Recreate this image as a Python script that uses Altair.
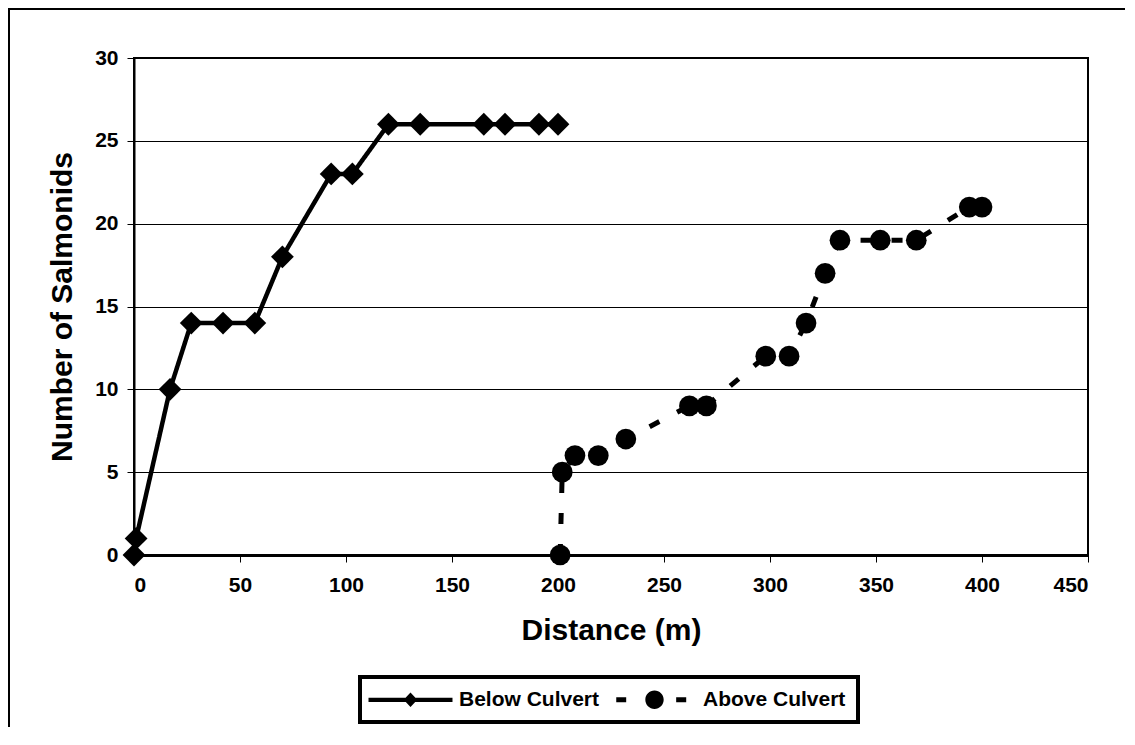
import altair as alt
import pandas as pd

# ---- data ----
series_names = ["Below Culvert", "Above Culvert"]

below_x = [0, 1, 17, 27, 42, 57, 70, 93, 103, 120, 135, 165, 175, 191, 200]
below_y = [0, 1, 10, 14, 14, 14, 18, 23, 23, 26, 26, 26, 26, 26, 26]

above_x = [201, 202, 208, 219, 232, 262, 270, 298, 309, 317, 326, 333, 352, 369, 394, 400]
above_y = [0, 5, 6, 6, 7, 9, 9, 12, 12, 14, 17, 19, 19, 19, 21, 21]

x_ticks = [0, 50, 100, 150, 200, 250, 300, 350, 400, 450]
y_ticks = [0, 5, 10, 15, 20, 25, 30]

rows = []
for i, (x, y) in enumerate(zip(below_x, below_y)):
    rows.append({"series": series_names[0], "x": x, "y": y, "idx": i})
for i, (x, y) in enumerate(zip(above_x, above_y)):
    rows.append({"series": series_names[1], "x": x, "y": y, "idx": i})
df = pd.DataFrame(rows)

FONT = "Liberation Sans"
W, H = 954, 497
PAD = {"left": 126, "top": 50, "right": 37, "bottom": 172}

# legend glyphs (line + marker) as custom symbol paths
path_below = ("M-4.94,-0.25L4.94,-0.25L4.94,0.25L-4.94,0.25Z "
              "M0,-0.85L0.8,0L0,0.85L-0.8,0Z")
path_above = ("M-4.5,-0.29L-3.33,-0.29L-3.33,0.29L-4.5,0.29Z "
              "M2.55,-0.29L3.73,-0.29L3.73,0.29L2.55,0.29Z "
              "M-1.08,0A1.08,1.08 0 1,1 1.08,0A1.08,1.08 0 1,1 -1.08,0Z")

xs = alt.Scale(domain=[0, 450], nice=False, zero=False)
ys = alt.Scale(domain=[0, 30], nice=False)

x_enc = alt.X("x:Q", scale=xs, title="Distance (m)",
              axis=alt.Axis(values=x_ticks, grid=False, domainWidth=3,
                            domainColor="black", tickColor="black", tickSize=7,
                            labelPadding=12, titlePadding=20))
y_enc = alt.Y("y:Q", scale=ys, title="Number of Salmonids",
              axis=alt.Axis(values=y_ticks, grid=True, gridColor="black",
                            gridWidth=1, domainWidth=2, domainColor="black",
                            tickColor="black", tickSize=7, labelPadding=9,
                            titlePadding=17))

base = alt.Chart(df)

lines = base.mark_line(color="black", clip=False).encode(
    x=x_enc, y=y_enc,
    order="idx:Q",
    detail="series:N",
    strokeDash=alt.StrokeDash("series:N", scale=alt.Scale(domain=series_names, range=[[1, 0], [11, 20]]), legend=None),
    strokeWidth=alt.StrokeWidth("series:N", scale=alt.Scale(domain=series_names, range=[4.5, 5]), legend=None),
)

points = base.mark_point(filled=True, color="black", opacity=1, clip=False).encode(
    x="x:Q", y="y:Q",
    shape=alt.Shape("series:N", scale=alt.Scale(domain=series_names, range=["diamond", "circle"]), legend=None),
    size=alt.Size("series:N", scale=alt.Scale(domain=series_names, range=[520, 430]), legend=None),
)

legend_layer = base.mark_point(filled=True, color="black", opacity=0).encode(
    x="x:Q", y="y:Q",
    shape=alt.Shape(
        "series:N",
        scale=alt.Scale(domain=series_names, range=[path_below, path_above]),
        legend=alt.Legend(
            title=None, orient="none", legendX=226, legendY=619,
            direction="horizontal", symbolSize=289, symbolOpacity=1,
            symbolFillColor="black", symbolStrokeWidth=0,
            labelFont=FONT, labelFontSize=21, labelFontWeight="bold",
            labelColor="black", labelOffset=38, symbolOffset=28,
            columnPadding=16, padding=12, strokeColor="black",
        ),
    ),
)

# outer chart-area frame: only its left and top edges fall inside the window
frame = alt.Chart(alt.Data(values=[{"a": 1}]))
edge_mask = frame.mark_rect(fill="white", stroke="white", strokeWidth=0, clip=False).encode(
    x=alt.value(986), x2=alt.value(1000), y=alt.value(-60), y2=alt.value(700))
frame_left = frame.mark_rule(color="black", strokeWidth=2).encode(
    x=alt.value(-125), y=alt.value(-50), y2=alt.value(669))
frame_top = frame.mark_rule(color="black", strokeWidth=2).encode(
    y=alt.value(-49), x=alt.value(-126), x2=alt.value(991))

chart = alt.layer(edge_mask, frame_left, frame_top, lines, points, legend_layer).resolve_scale(
    shape="independent"
).properties(
    width=W, height=H,
    autosize=alt.AutoSizeParams(type="none"),
    padding=PAD,
    background="white",
).configure_view(
    stroke="black", strokeWidth=2
).configure_axis(
    labelFont=FONT, labelFontSize=21, labelFontWeight="bold", labelColor="black",
    titleFont=FONT, titleFontSize=30, titleFontWeight="bold", titleColor="black",
).configure_legend(
    strokeWidth=4
)

chart.save("out.html", embed_options={"renderer": "svg", "actions": False})
